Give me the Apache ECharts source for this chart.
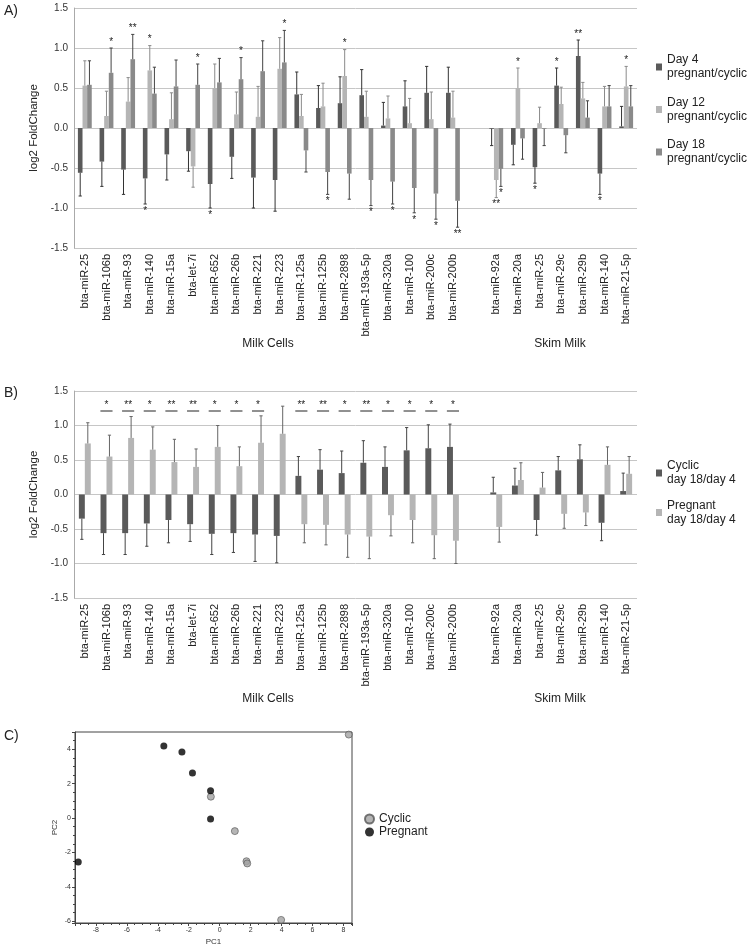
<!DOCTYPE html>
<html>
<head>
<meta charset="utf-8">
<script src="https://cdn.jsdelivr.net/npm/echarts@6/dist/echarts.min.js"></script>
<style>
  html, body { margin: 0; padding: 0; background: #fff; }
  #chart { width: 750px; height: 948px; }
</style>
</head>
<body>
<div id="chart"></div>
<script>
// categories (empty slot separates milk cells from skim milk)
const mirs = ['bta-miR-25','bta-miR-106b','bta-miR-93','bta-miR-140','bta-miR-15a','bta-let-7i','bta-miR-652','bta-miR-26b','bta-miR-221','bta-miR-223','bta-miR-125a','bta-miR-125b','bta-miR-2898','bta-miR-193a-5p','bta-miR-320a','bta-miR-100','bta-miR-200c','bta-miR-200b','','bta-miR-92a','bta-miR-20a','bta-miR-25','bta-miR-29c','bta-miR-29b','bta-miR-140','bta-miR-21-5p'];

// panel A
const day4 = [-0.56,-0.42,-0.52,-0.63,-0.33,-0.29,-0.70,-0.36,-0.62,-0.65,0.42,0.25,0.31,0.41,0.03,0.27,0.44,0.44,null,-0.01,-0.21,-0.49,0.53,0.90,-0.57,0.02];
const day4Err = [0.29,0.31,0.31,0.32,0.32,0.25,0.30,0.27,0.38,0.39,0.28,0.28,0.33,0.32,0.29,0.32,0.33,0.32,null,0.21,0.25,0.20,0.22,0.20,0.26,0.25];
const day4Sig = ['','','','*','','','*','','','','','','','','','','','','','','','*','*','**','*',''];
const day12 = [0.53,0.15,0.33,0.72,0.11,-0.48,0.50,0.17,0.14,0.74,0.15,0.27,0.65,0.14,0.12,0.06,0.11,0.13,null,-0.65,0.50,0.06,0.30,0.37,0.27,0.52];
const day12Err = [0.31,0.31,0.30,0.31,0.33,0.26,0.30,0.28,0.38,0.39,0.27,0.29,0.33,0.32,0.28,0.31,0.34,0.33,null,0.22,0.25,0.20,0.21,0.20,0.25,0.25];
const day12Sig = ['','','','*','','','','','','','','','*','','','','','','','**','*','','','','','*'];
const day18 = [0.54,0.69,0.86,0.43,0.52,0.54,0.57,0.61,0.71,0.82,-0.28,-0.55,-0.57,-0.65,-0.67,-0.75,-0.82,-0.91,null,-0.51,-0.13,-0.01,-0.09,0.13,0.27,0.27];
const day18Err = [0.30,0.31,0.31,0.33,0.33,0.26,0.30,0.27,0.38,0.40,0.27,0.28,0.32,0.32,0.28,0.31,0.32,0.33,null,0.22,0.26,0.21,0.22,0.21,0.26,0.26];
const day18Sig = ['','*','**','','','*','','*','','*','','*','','*','*','*','*','**','','*','','','','','',''];

// panel B
const cyclic = [-0.35,-0.56,-0.56,-0.42,-0.37,-0.43,-0.57,-0.56,-0.58,-0.60,0.27,0.36,0.31,0.46,0.40,0.64,0.67,0.69,null,0.03,0.13,-0.37,0.35,0.51,-0.41,0.05];
const cyclicErr = [0.30,0.31,0.31,0.33,0.33,0.25,0.30,0.28,0.39,0.39,0.28,0.29,0.32,0.32,0.29,0.33,0.34,0.33,null,0.22,0.25,0.22,0.20,0.21,0.26,0.26];
const pregnant = [0.74,0.55,0.82,0.65,0.47,0.40,0.69,0.41,0.75,0.88,-0.43,-0.44,-0.58,-0.61,-0.30,-0.37,-0.59,-0.67,null,-0.47,0.21,0.10,-0.28,-0.26,0.43,0.30];
const pregnantErr = [0.30,0.31,0.31,0.33,0.33,0.26,0.31,0.28,0.39,0.40,0.27,0.29,0.33,0.32,0.30,0.33,0.34,0.33,null,0.22,0.25,0.22,0.21,0.19,0.26,0.25];
const bSig = ['','*','**','*','**','**','*','*','*','','**','**','*','**','*','*','*','*','','','','','','','',''];

// panel C (PCA)
const cyclicPC1 = [8.34,-0.57,0.98,1.73,1.78,3.97];
const cyclicPC2 = [4.85,1.24,-0.76,-2.51,-2.64,-5.92];
const pregPC1 = [-3.61,-2.44,-1.76,-0.59,-0.59,-9.14];
const pregPC2 = [4.19,3.84,2.62,1.59,-0.06,-2.56];

const FONT = 'Liberation Sans, Arial, sans-serif';
const DARK = '#5a5a5a', LIGHT = '#b5b5b5', MID = '#8a8a8a';
const GRID_LINE = '#c6c6c6';

const chart = echarts.init(document.getElementById('chart'));

// one-sided error bar + significance stars, drawn on top of a bar series
function errorSeries(gi, vals, errs, sig, slot, nBars, gap, color) {
  const data = [];
  vals.forEach((v, i) => { if (v != null) data.push([i, v, errs[i]]); });
  return {
    type: 'custom', xAxisIndex: gi, yAxisIndex: gi, silent: true, z: 5,
    data: data, encode: { x: 0, y: 1 },
    renderItem: function (params, api) {
      const i = api.value(0), v = api.value(1), e = api.value(2);
      const band = api.size([1, 0])[0];
      const group = band * (1 - gap);
      const bw = group / nBars;
      const base = api.coord([i, v]);
      const x = base[0] - group / 2 + bw * (slot + 0.5);
      const up = v >= 0;
      const end = api.coord([i, up ? v + e : v - e]);
      const cap = 1.6;
      const kids = [
        { type: 'line', shape: { x1: x, y1: base[1], x2: x, y2: end[1] }, style: { stroke: color, lineWidth: 1 } },
        { type: 'line', shape: { x1: x - cap, y1: end[1], x2: x + cap, y2: end[1] }, style: { stroke: color, lineWidth: 1 } }
      ];
      const s = sig[i];
      if (s) {
        kids.push({ type: 'text', x: x, y: up ? end[1] - 1 : end[1] + 2,
          style: { text: s, fill: '#222', font: '10px ' + FONT, align: 'center', verticalAlign: up ? 'bottom' : 'top' } });
      }
      return { type: 'group', children: kids };
    }
  };
}

function sigBarSeries(gi, sig) {
  const data = [];
  sig.forEach((s, i) => { if (s) data.push([i, 1.21]); });
  return {
    type: 'custom', xAxisIndex: gi, yAxisIndex: gi, silent: true, z: 5,
    data: data, encode: { x: 0, y: 1 },
    renderItem: function (params, api) {
      const i = api.value(0);
      const p = api.coord([i, api.value(1)]);
      const half = api.size([1, 0])[0] * 0.28;
      return { type: 'group', children: [
        { type: 'line', shape: { x1: p[0] - half, y1: p[1], x2: p[0] + half, y2: p[1] }, style: { stroke: '#222', lineWidth: 1 } },
        { type: 'text', x: p[0], y: p[1] - 1, style: { text: sig[i], fill: '#222', font: '10px ' + FONT, align: 'center', verticalAlign: 'bottom' } }
      ] };
    }
  };
}

function catAxis(gi) {
  return {
    type: 'category', gridIndex: gi, data: mirs,
    axisLine: { show: false }, axisTick: { show: false },
    axisLabel: { interval: 0, rotate: 90, fontSize: 11, fontFamily: FONT, color: '#222', margin: 6 }
  };
}
function foldAxis(gi) {
  return {
    type: 'value', gridIndex: gi, min: -1.5, max: 1.5, interval: 0.5,
    name: 'log2 FoldChange', nameLocation: 'middle', nameGap: 28, nameRotate: 90,
    nameTextStyle: { fontSize: 11.5, fontFamily: FONT, color: '#222' },
    axisLine: { show: true, lineStyle: { color: '#aaa' } }, axisTick: { show: false },
    axisLabel: { formatter: v => v.toFixed(1), fontSize: 10, fontFamily: FONT, color: '#333', margin: 6 },
    splitLine: { lineStyle: { color: GRID_LINE } }
  };
}
function legendFor(top, names, gap) {
  return {
    data: names, orient: 'vertical', left: 656, top: top, padding: 0,
    icon: 'rect', itemWidth: 6, itemHeight: 7, itemGap: gap,
    textStyle: { fontSize: 12, fontFamily: FONT, color: '#222', lineHeight: 14, padding: [14, 0, 0, 0] },
    selectedMode: false
  };
}

const nA = ['Day 4\npregnant/cyclic', 'Day 12\npregnant/cyclic', 'Day 18\npregnant/cyclic'];
const nB = ['Cyclic\nday 18/day 4', 'Pregnant\nday 18/day 4'];
const GAP_A = 0.36, GAP_B = 0.45;

const option = {
  animation: false,
  backgroundColor: '#fff',
  textStyle: { fontFamily: FONT },
  grid: [
    { left: 74, top: 8, width: 563, height: 240 },
    { left: 74, top: 391, width: 563, height: 207 },
    { left: 75, top: 732, width: 277, height: 191, show: true, borderColor: '#444', borderWidth: 1 }
  ],
  legend: [
    legendFor(46, nA, 0.5),
    legendFor(452, nB, -2.5),
    { data: ['Cyclic', 'Pregnant'], orient: 'vertical', left: 364, top: 813, padding: 0,
      itemWidth: 9, itemHeight: 9, itemGap: 1, selectedMode: false,
      textStyle: { fontSize: 12, fontFamily: FONT, color: '#222' } }
  ],
  xAxis: [
    catAxis(0), catAxis(1),
    { type: 'value', gridIndex: 2, min: -9.35, max: 8.55, splitNumber: 9,
      name: 'PC1', nameLocation: 'middle', nameGap: 15,
      nameTextStyle: { fontSize: 8, fontFamily: FONT, color: '#333' },
      axisLine: { show: true, onZero: false, lineStyle: { color: '#444' } },
      axisTick: { show: true, length: 3, lineStyle: { color: '#444' } },
      minorTick: { show: true, splitNumber: 4, length: 2, lineStyle: { color: '#444' } },
      splitLine: { show: false },
      axisLabel: { fontSize: 7, color: '#333', margin: 4, showMinLabel: false, showMaxLabel: false,
        formatter: v => Number.isInteger(v) ? String(v) : '' } }
  ],
  yAxis: [
    foldAxis(0), foldAxis(1),
    { type: 'value', gridIndex: 2, min: -6.1, max: 5.0, splitNumber: 5,
      name: 'PC2', nameLocation: 'middle', nameGap: 16, nameRotate: 90,
      nameTextStyle: { fontSize: 8, fontFamily: FONT, color: '#333' },
      axisLine: { show: true, onZero: false, lineStyle: { color: '#444' } },
      axisTick: { show: true, length: 3, lineStyle: { color: '#444' } },
      minorTick: { show: true, splitNumber: 4, length: 2, lineStyle: { color: '#444' } },
      splitLine: { show: false },
      axisLabel: { fontSize: 7, color: '#333', margin: 4, showMinLabel: false, showMaxLabel: false,
        formatter: v => Number.isInteger(v) ? String(v) : '' } }
  ],
  series: [
    { name: nA[0], type: 'bar', xAxisIndex: 0, yAxisIndex: 0, data: day4, itemStyle: { color: DARK }, barGap: '0%', barCategoryGap: GAP_A * 100 + '%' },
    { name: nA[1], type: 'bar', xAxisIndex: 0, yAxisIndex: 0, data: day12, itemStyle: { color: LIGHT } },
    { name: nA[2], type: 'bar', xAxisIndex: 0, yAxisIndex: 0, data: day18, itemStyle: { color: MID } },
    errorSeries(0, day4, day4Err, day4Sig, 0, 3, GAP_A, '#333'),
    errorSeries(0, day12, day12Err, day12Sig, 1, 3, GAP_A, '#8a8a8a'),
    errorSeries(0, day18, day18Err, day18Sig, 2, 3, GAP_A, '#444'),

    { name: nB[0], type: 'bar', xAxisIndex: 1, yAxisIndex: 1, data: cyclic, itemStyle: { color: DARK }, barGap: '0%', barCategoryGap: GAP_B * 100 + '%' },
    { name: nB[1], type: 'bar', xAxisIndex: 1, yAxisIndex: 1, data: pregnant, itemStyle: { color: LIGHT } },
    errorSeries(1, cyclic, cyclicErr, [], 0, 2, GAP_B, '#444'),
    errorSeries(1, pregnant, pregnantErr, [], 1, 2, GAP_B, '#666'),
    sigBarSeries(1, bSig),

    { name: 'Cyclic', type: 'scatter', xAxisIndex: 2, yAxisIndex: 2, symbolSize: 7,
      data: cyclicPC1.map((x, i) => [x, cyclicPC2[i]]),
      itemStyle: { color: '#a3a3a3', borderColor: '#555', borderWidth: 0.8 } },
    { name: 'Pregnant', type: 'scatter', xAxisIndex: 2, yAxisIndex: 2, symbolSize: 7,
      data: pregPC1.map((x, i) => [x, pregPC2[i]]),
      itemStyle: { color: '#000' } }
  ],
  graphic: [
    { type: 'text', left: 4, top: 4, style: { text: 'A)', font: '14px ' + FONT, fill: '#222' } },
    { type: 'text', left: 4, top: 386, style: { text: 'B)', font: '14px ' + FONT, fill: '#222' } },
    { type: 'text', left: 4, top: 729, style: { text: 'C)', font: '14px ' + FONT, fill: '#222' } },
    { type: 'text', x: 268, y: 344, style: { text: 'Milk Cells', font: '12px ' + FONT, fill: '#222', align: 'center', verticalAlign: 'middle' } },
    { type: 'text', x: 560, y: 344, style: { text: 'Skim Milk', font: '12px ' + FONT, fill: '#222', align: 'center', verticalAlign: 'middle' } },
    { type: 'text', x: 268, y: 699, style: { text: 'Milk Cells', font: '12px ' + FONT, fill: '#222', align: 'center', verticalAlign: 'middle' } },
    { type: 'text', x: 560, y: 699, style: { text: 'Skim Milk', font: '12px ' + FONT, fill: '#222', align: 'center', verticalAlign: 'middle' } }
  ]
};

chart.setOption(option);
</script>
</body>
</html>
